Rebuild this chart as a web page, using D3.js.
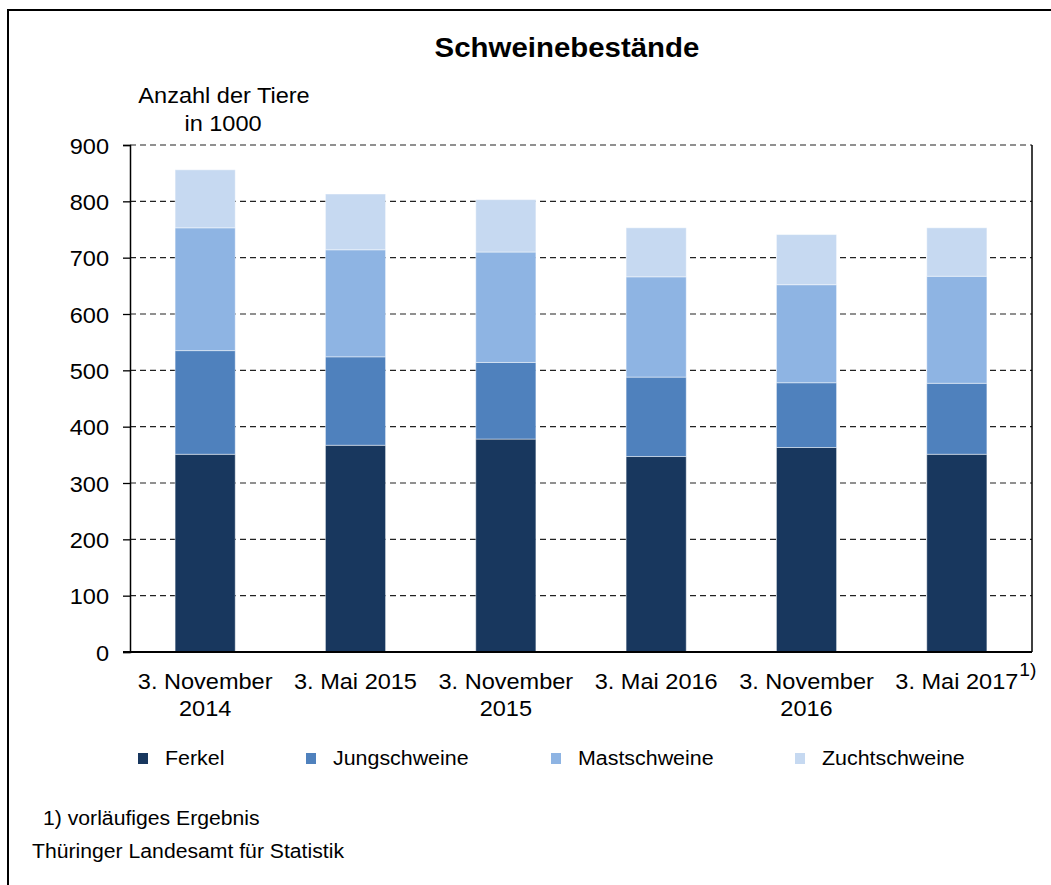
<!DOCTYPE html>
<html>
<head>
<meta charset="utf-8">
<script src="https://cdn.jsdelivr.net/npm/d3@7"></script>
<style>
  html, body { margin: 0; padding: 0; background: #fff; }
  svg { display: block; font-family: Arial, "Liberation Sans", sans-serif; }
</style>
</head>
<body>
<svg id="chart" width="1051" height="885"></svg>
<script>
// ---- data ----
const categories = ["3. November\n2014", "3. Mai 2015", "3. November\n2015", "3. Mai 2016", "3. November\n2016", "3. Mai 2017"];
const categoryNotes = ["", "", "", "", "", "1)"];
const seriesNames = ["Ferkel", "Jungschweine", "Mastschweine", "Zuchtschweine"];
const ferkel        = [351, 367, 378, 347, 363, 351];
const jungschweine  = [184, 157, 136, 141, 115, 126];
const mastschweine  = [218, 190, 196, 178, 174, 190];
const zuchtschweine = [103,  99,  93,  87,  89,  86];
const yTicks = [0, 100, 200, 300, 400, 500, 600, 700, 800, 900];
const colors = ["#18375E", "#4F81BD", "#8EB4E3", "#C6D9F1"];
const titleText = "Schweinebestände";
const yLabelLines = ["Anzahl der Tiere", "in 1000"];
const footnote = "1) vorläufiges Ergebnis";
const sourceText = "Thüringer Landesamt für Statistik";

// ---- build table ----
const seriesValues = [ferkel, jungschweine, mastschweine, zuchtschweine];
const table = categories.map((c, i) => {
  const row = { cat: c };
  seriesNames.forEach((s, j) => row[s] = seriesValues[j][i]);
  return row;
});
const stacked = d3.stack().keys(seriesNames)(table);

const SX = 1.07; // horizontal stretch of glyphs in reference
const svg = d3.select("#chart");

function txt(g, x, y, s, size, opts = {}) {
  return g.append("text")
    .attr("transform", `translate(${x},${y}) scale(${SX},1)`)
    .attr("text-anchor", opts.anchor || "start")
    .attr("font-size", size)
    .attr("font-weight", opts.weight || "normal")
    .attr("fill", "#000")
    .text(s);
}

// outer frame (cut off at right/bottom)
svg.append("rect")
  .attr("x", 8).attr("y", 10).attr("width", 1060).attr("height", 900)
  .attr("fill", "none").attr("stroke", "#000").attr("stroke-width", 2);

const plot = { left: 130, right: 1032, top: 145, bottom: 652 };

const x = d3.scaleBand().domain(categories)
  .range([plot.left, plot.right]).paddingInner(0.6).paddingOuter(0.3);
const y = d3.scaleLinear().domain([0, 900]).range([plot.bottom, plot.top]);

// gridlines
svg.append("g").selectAll("line").data(yTicks.filter(t => t > 0)).join("line")
  .attr("x1", plot.left).attr("x2", plot.right)
  .attr("y1", d => y(d)).attr("y2", d => y(d))
  .attr("stroke", "#222").attr("stroke-width", 1.2)
  .attr("stroke-dasharray", "6,4");

// right border
svg.append("line").attr("x1", plot.right).attr("x2", plot.right)
  .attr("y1", plot.top).attr("y2", plot.bottom)
  .attr("stroke", "#000").attr("stroke-width", 1.5);

// bars
svg.append("g").selectAll("g").data(stacked).join("g")
  .attr("fill", (d, i) => colors[i])
  .selectAll("rect").data(d => d).join("rect")
  .attr("x", d => x(d.data.cat))
  .attr("width", x.bandwidth())
  .attr("y", d => y(d[1]))
  .attr("height", d => y(d[0]) - y(d[1]))
  .attr("stroke", "rgba(255,255,255,0.45)").attr("stroke-width", 1);

// y axis
const yAxis = svg.append("g")
  .attr("transform", `translate(${plot.left},0)`)
  .call(d3.axisLeft(y).tickValues(yTicks).tickSize(7).tickPadding(14).tickFormat(d3.format("d")));
yAxis.select(".domain").attr("stroke", "#000").attr("stroke-width", 1.5);
yAxis.selectAll(".tick line").attr("stroke", "#000").attr("stroke-width", 1.3);
yAxis.selectAll(".tick text")
  .attr("font-size", 22).attr("fill", "#000")
  .attr("font-family", "Arial, 'Liberation Sans', sans-serif")
  .attr("x", null).attr("dy", null)
  .attr("transform", `translate(-21,8) scale(${SX},1)`);

// x axis line
svg.append("line").attr("x1", plot.left - 7).attr("x2", plot.right)
  .attr("y1", plot.bottom).attr("y2", plot.bottom)
  .attr("stroke", "#000").attr("stroke-width", 2);

// x labels
const xl = svg.append("g");
categories.forEach((c, i) => {
  const cx = x(c) + x.bandwidth() / 2;
  const lines = c.split("\n");
  let lastW = 0;
  lines.forEach((ln, k) => {
    const t = txt(xl, cx, 689 + k * 27, ln, 22, { anchor: "middle" });
    if (k === 0) lastW = t.node().getComputedTextLength() * SX;
  });
  if (categoryNotes[i]) {
    txt(xl, cx + lastW / 2 + 1, 676, categoryNotes[i], 18);
  }
});

// title
txt(svg, 567, 57, titleText, 27.5, { anchor: "middle", weight: "bold" });

// y label
txt(svg, 224, 103, yLabelLines[0], 22, { anchor: "middle" });
txt(svg, 223, 131, yLabelLines[1], 22, { anchor: "middle" });

// legend
const legendX = [138, 306, 551, 795];
const lg = svg.append("g");
seriesNames.forEach((s, i) => {
  lg.append("rect").attr("x", legendX[i]).attr("y", 753)
    .attr("width", 10).attr("height", 11).attr("fill", colors[i]);
  txt(lg, legendX[i] + 27, 765, s, 20);
});

// footnotes
txt(svg, 43, 825, footnote, 19.8);
txt(svg, 32, 858, sourceText, 19.8);
</script>
</body>
</html>
